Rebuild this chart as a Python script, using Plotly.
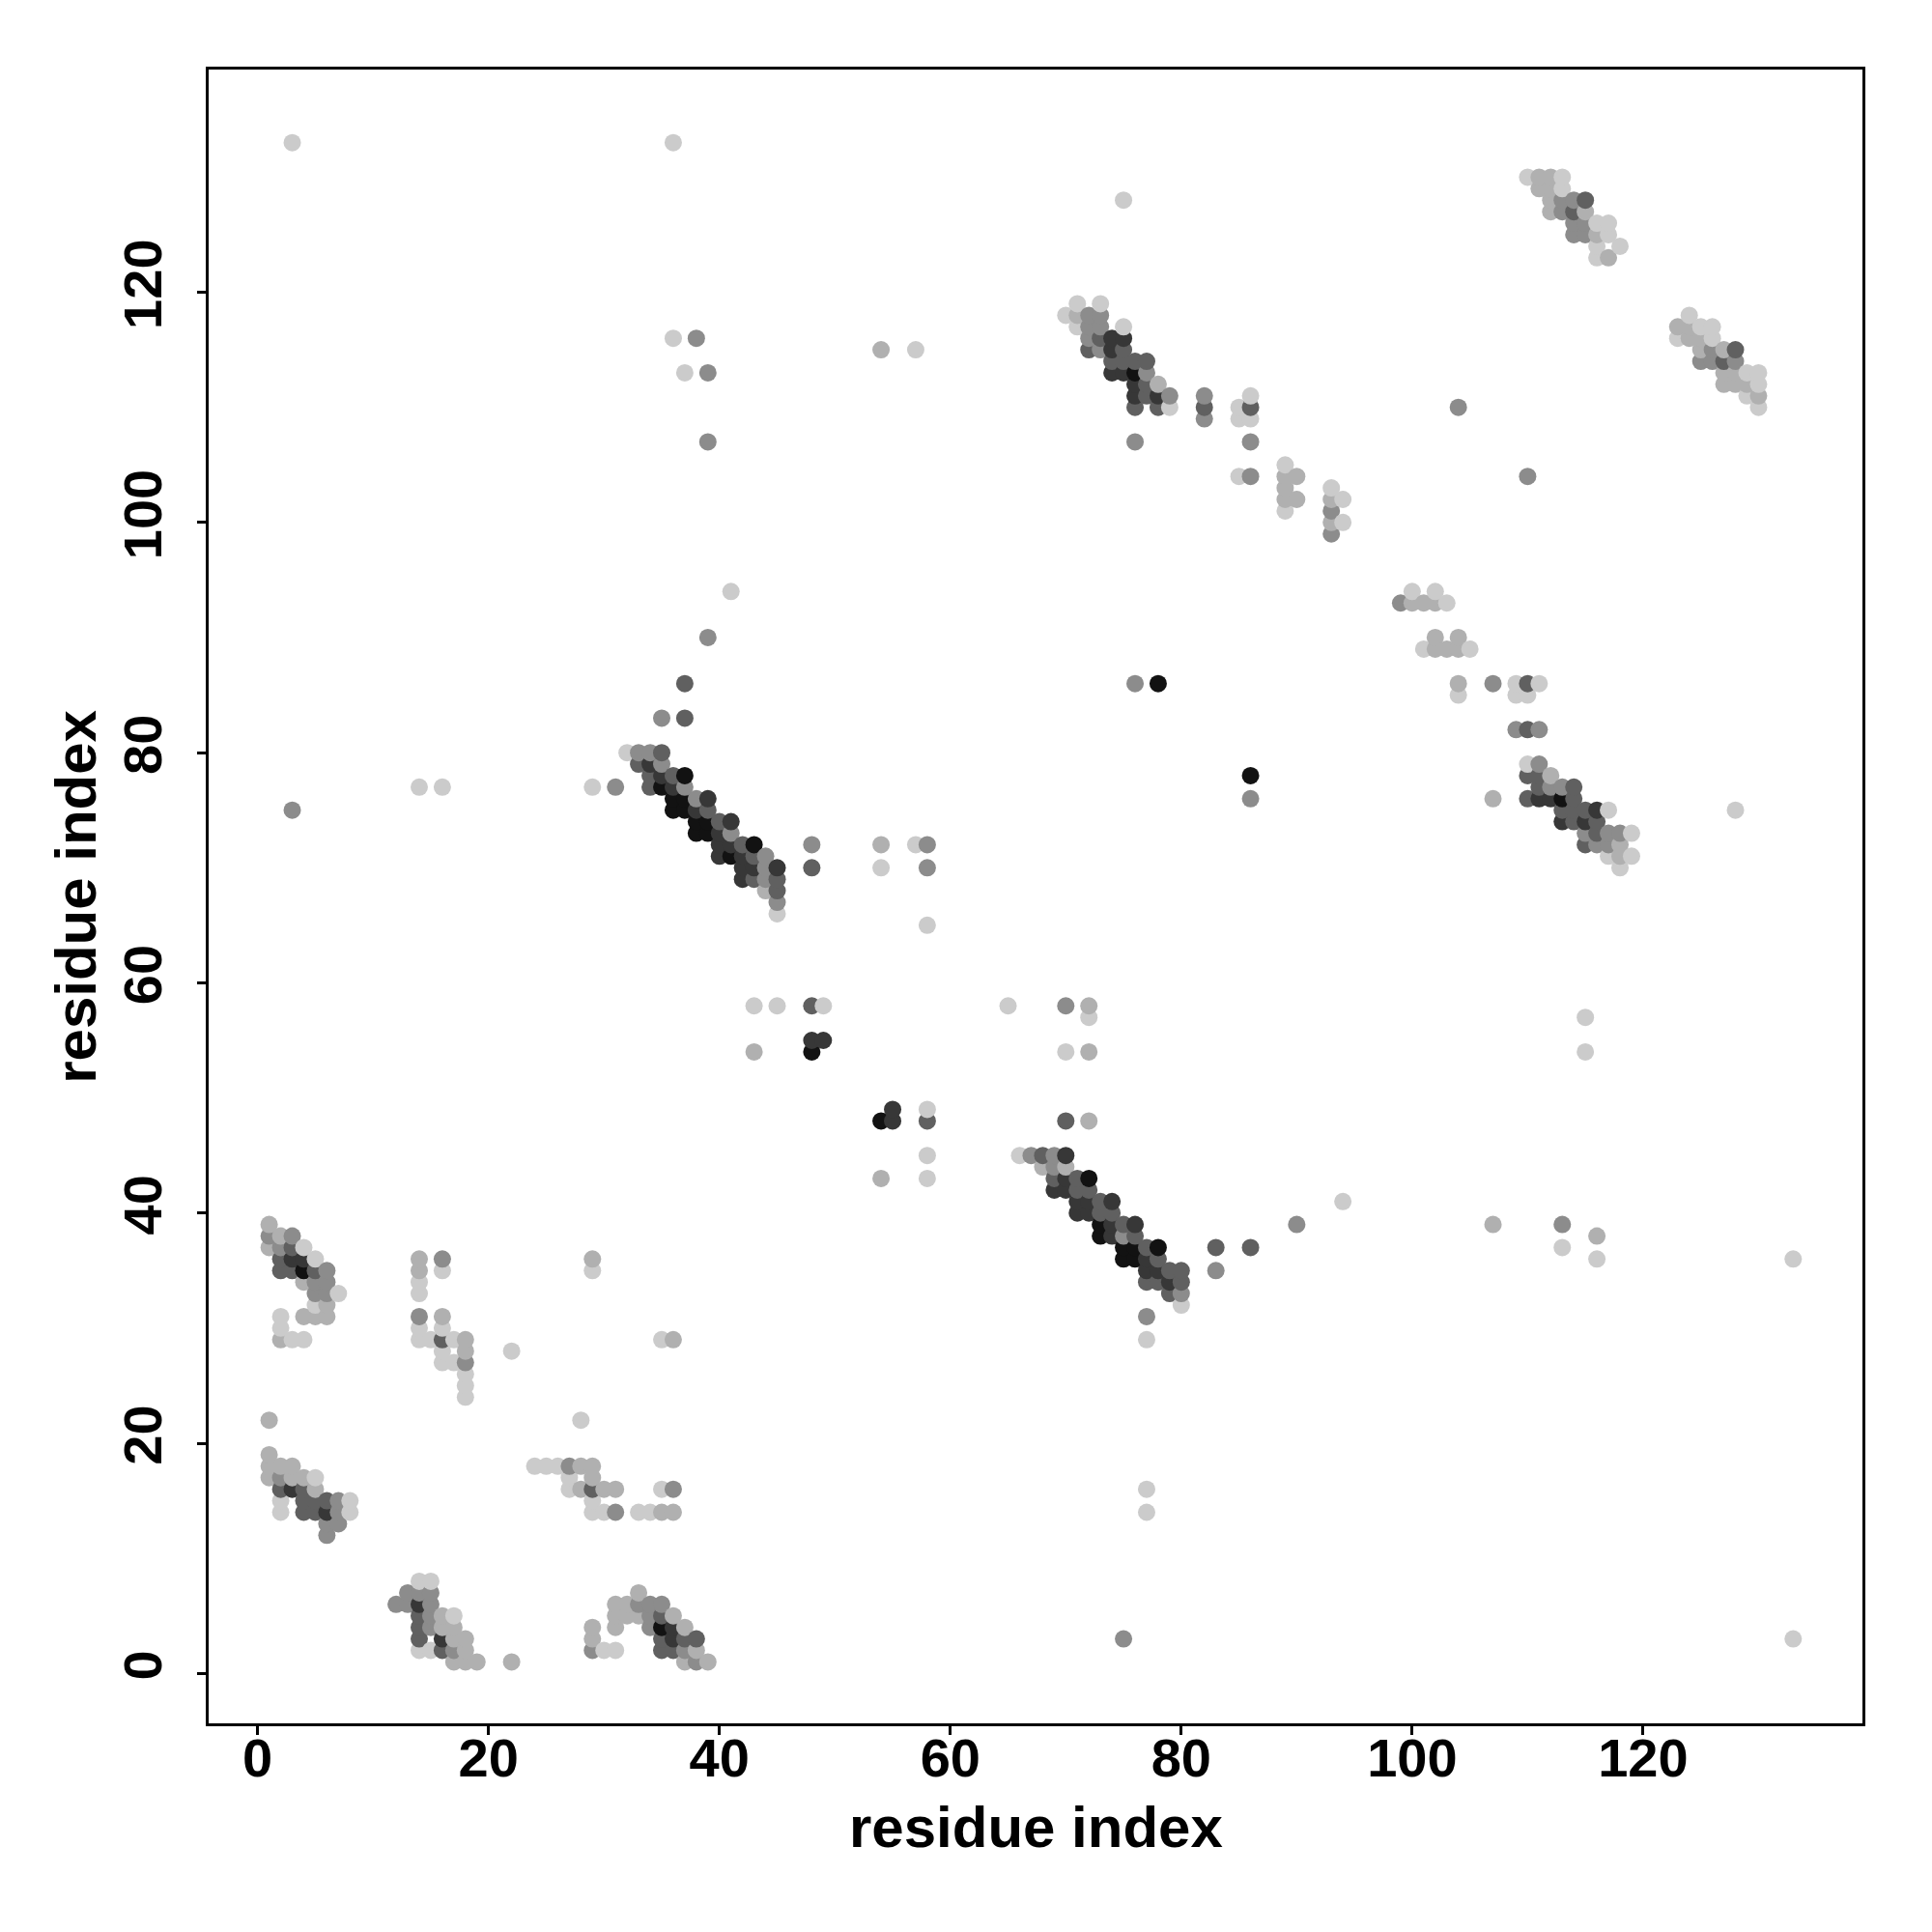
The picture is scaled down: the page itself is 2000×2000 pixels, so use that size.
import plotly.graph_objects as go

# Contact map: residue i (x), residue j (y), contact strength (0..1, darker = stronger)
res_i = [
    # cluster near (1-8, 29-39)
    1, 1, 2, 3, 1, 2, 3, 4, 2, 3, 4, 5, 2, 3, 4, 5, 6, 4, 5, 6, 5, 6, 7, 5, 6, 2, 4, 5, 6, 2, 2, 3, 4,
    # cluster near (14-18, 24-36)
    14, 16, 14, 16, 14, 14, 14, 16, 14, 16, 14, 15, 16, 17, 18, 16, 18, 16, 17, 18, 18, 18, 18, 22,
    # cluster near (1-8, 12-22)
    1, 1, 1, 2, 3, 1, 2, 3, 4, 5, 2, 3, 4, 5, 2, 4, 5, 6, 7, 8, 2, 4, 5, 6, 7, 8, 6, 7, 6,
    # cluster near (12-19, 1-8)
    14, 15, 13, 14, 15, 12, 13, 14, 15, 14, 15, 16, 17, 14, 15, 16, 17, 14, 16, 17, 18,
    14, 15, 16, 17, 18, 17, 18, 19, 22,
    # cluster near (24-36, 14-36)
    24, 25, 26, 27, 28, 29, 27, 29, 27, 28, 29, 30, 31, 29, 29, 30, 31, 33, 34, 35, 36, 35, 36,
    28, 29, 29, 35, 36,
    # cluster near (29-39, 1-7)
    33, 31, 32, 33, 34, 35, 31, 32, 33, 34, 35, 36, 29, 31, 34, 35, 36, 37, 29, 35, 36, 37, 38,
    29, 30, 31, 35, 36, 37, 38, 37, 38, 39,
    # anti-diagonal strand (29-45, 66-94)
    41, 39, 37, 35, 37, 32, 33, 34, 35, 33, 34, 35, 34, 35, 36, 37, 29, 31, 34, 35, 36, 37,
    36, 37, 38, 39, 36, 37, 38, 39, 38, 39, 40, 41, 38, 39, 40, 41, 40, 41, 42, 43,
    40, 41, 42, 43, 44, 42, 43, 44, 45, 42, 43, 44, 45, 44, 45, 45, 45,
    # scattered (43-72, 43-72)
    48, 54, 57, 58, 48, 54, 58, 58, 43, 45, 48, 49, 48, 49, 43, 48,
    55, 58, 54, 55, 58, 58, 54, 58, 65, 70, 72, 72, 70, 72, 70, 72,
    # anti-diagonal strand (66-80, 29-45)
    66, 67, 68, 69, 70, 68, 69, 70, 69, 70, 71, 72, 69, 70, 71, 72, 71, 72, 73, 74,
    71, 72, 73, 74, 73, 74, 75, 76, 73, 74, 75, 76, 75, 76, 77, 78, 75, 76, 77, 78,
    77, 78, 79, 80, 77, 78, 79, 80, 79, 80, 80, 77, 77, 83, 86, 83, 90, 94,
    # cluster near (70-79, 107-119)
    71, 73, 70, 71, 72, 73, 71, 72, 73, 75, 72, 73, 74, 75, 72, 73, 74, 75, 74, 75, 76, 77,
    74, 75, 76, 77, 76, 77, 78, 76, 77, 78, 79, 76, 78, 79, 76,
    82, 82, 82, 86, 86, 86, 85, 85, 86, 85, 86,
    89, 89, 90, 89, 90, 89, 89, 93, 94, 93, 93, 94, 93, 93,
    # cluster near (99-119, 70-94)
    100, 102, 99, 100, 101, 102, 103, 102, 104, 101, 102, 103, 104, 105,
    104, 104, 107, 109, 110, 111, 109, 110, 109, 110, 111, 110, 111, 110, 111, 112,
    111, 112, 113, 114, 107, 110, 111, 112, 113, 114, 113, 114, 115, 116, 117,
    113, 114, 115, 116, 115, 116, 117, 118, 119, 115, 116, 117, 118, 117, 118, 119, 118, 128,
    # cluster near (110-118, 123-130)
    110, 111, 112, 113, 111, 112, 113, 112, 113, 114, 115, 112, 113, 114, 115,
    114, 115, 116, 117, 114, 115, 116, 117, 116, 118, 116, 117,
    # cluster near (123-130, 110-118)
    124, 123, 124, 125, 126, 123, 124, 125, 126, 125, 126, 127, 128, 125, 126, 127, 128,
    127, 128, 129, 130, 127, 128, 129, 130, 129, 130, 130,
    # isolated contacts
    3, 36, 75, 36, 38, 37, 39, 39, 54, 57, 104, 110, 76, 78, 86, 86, 3, 14, 16,
    115, 115, 107, 113, 113, 116, 116, 133, 75, 133, 77, 77,
]

res_j = [
    39, 38, 38, 38, 37, 37, 37, 37, 36, 36, 36, 36, 35, 35, 35, 35, 35, 34, 34, 34, 33, 33, 33, 32, 32, 31, 31, 31, 31, 30, 29, 29, 29,
    36, 36, 35, 35, 34, 33, 31, 31, 30, 30, 29, 29, 29, 29, 29, 28, 28, 27, 27, 27, 26, 25, 24, 28,
    22, 19, 18, 18, 18, 17, 17, 17, 17, 17, 16, 16, 16, 16, 15, 15, 15, 15, 15, 15, 14, 14, 14, 14, 14, 14, 13, 13, 12,
    8, 8, 7, 7, 7, 6, 6, 6, 6, 5, 5, 5, 5, 4, 4, 4, 4, 3, 3, 3, 3,
    2, 2, 2, 2, 2, 1, 1, 1, 1,
    18, 18, 18, 18, 18, 18, 17, 17, 16, 16, 16, 16, 16, 15, 14, 14, 14, 14, 14, 14, 14, 16, 16,
    22, 36, 35, 29, 29,
    7, 6, 6, 6, 6, 6, 5, 5, 5, 5, 5, 5, 4, 4, 4, 4, 4, 4, 3, 3, 3, 3, 3,
    2, 2, 2, 2, 2, 2, 2, 1, 1, 1,
    94, 90, 86, 83, 83, 80, 80, 80, 80, 79, 79, 79, 78, 78, 78, 78, 77, 77, 77, 77, 77, 77,
    76, 76, 76, 76, 75, 75, 75, 75, 74, 74, 74, 74, 73, 73, 73, 73, 72, 72, 72, 72,
    71, 71, 71, 71, 71, 70, 70, 70, 70, 69, 69, 69, 69, 68, 68, 67, 66,
    72, 72, 72, 72, 70, 70, 70, 65, 58, 58, 58, 58, 55, 55, 54, 54,
    49, 49, 48, 48, 48, 45, 43, 43, 58, 58, 58, 57, 54, 54, 48, 48,
    45, 45, 45, 45, 45, 44, 44, 44, 43, 43, 43, 43, 42, 42, 42, 42, 41, 41, 41, 41,
    40, 40, 40, 40, 39, 39, 39, 39, 38, 38, 38, 38, 37, 37, 37, 37, 36, 36, 36, 36,
    35, 35, 35, 35, 34, 34, 34, 34, 33, 33, 32, 31, 29, 37, 37, 35, 39, 41,
    119, 119, 118, 118, 118, 118, 117, 117, 117, 117, 116, 116, 116, 116, 115, 115, 115, 115, 114, 114, 114, 114,
    113, 113, 113, 113, 112, 112, 112, 111, 111, 111, 111, 110, 110, 110, 107,
    111, 110, 109, 111, 110, 109, 110, 109, 107, 104, 104,
    105, 104, 104, 103, 102, 102, 101, 103, 102, 102, 101, 100, 100, 99,
    94, 94, 93, 93, 93, 93, 93, 90, 90, 89, 89, 89, 89, 89,
    86, 85, 86, 86, 86, 86, 85, 85, 82, 82, 82, 79, 79, 78, 78, 78,
    77, 77, 77, 77, 76, 76, 76, 76, 76, 76, 75, 75, 75, 75, 75,
    74, 74, 74, 74, 73, 73, 73, 73, 73, 72, 72, 72, 72, 71, 71, 71, 70, 75,
    130, 130, 130, 130, 129, 129, 129, 128, 128, 128, 128, 127, 127, 127, 127,
    126, 126, 126, 126, 125, 125, 125, 125, 124, 124, 123, 123,
    118, 117, 117, 117, 117, 116, 116, 116, 116, 115, 115, 115, 115, 114, 114, 114, 114,
    113, 113, 113, 113, 112, 112, 112, 112, 111, 111, 110,
    133, 133, 128, 116, 116, 113, 113, 107, 115, 115, 110, 104, 86, 86, 78, 76, 75, 77, 77,
    57, 54, 39, 39, 37, 38, 36, 36, 3, 3, 16, 14,
]

# contact strength read from the grey level of each dot
L, M, G, D, K, B = 0.15, 0.3, 0.45, 0.65, 0.8, 0.95
strength = [
    M, G, M, G, M, G, D, L, D, K, K, L, D, D, B, D, G, M, G, G, G, G, L, L, M, L, M, M, M, L, M, L, L,
    M, G, M, L, L, L, G, M, L, L, L, L, D, L, M, L, M, L, L, G, L, L, L, L,
    M, M, M, M, M, M, G, M, M, L, D, K, D, M, L, D, D, D, G, L, L, D, D, K, G, L, G, G, G,
    L, L, G, G, G, G, G, K, G, D, G, M, L, D, G, M, M, D, K, M, M,
    L, L, D, G, M, M, M, M, M,
    L, L, L, G, M, M, L, M, L, M, D, M, M, L, L, L, G, L, L, M, M, L, G,
    L, M, L, L, M,
    M, M, M, G, G, G, M, M, M, G, D, M, M, M, G, B, K, M, M, D, K, D, D,
    G, L, L, D, D, G, M, M, G, M,
    L, G, D, G, D, L, G, G, D, D, K, G, D, K, D, B, L, G, D, B, K, G,
    B, B, G, K, B, B, K, D, B, B, D, K, B, B, K, G, K, K, D, B,
    K, B, K, D, G, K, K, G, K, K, D, G, D, M, D, G, L,
    G, M, L, G, D, L, G, L, L, L, D, L, K, K, M, B,
    K, L, B, K, D, L, M, L, L, G, M, L, L, M, D, M,
    L, G, D, G, K, M, G, M, D, K, D, B, K, K, D, D, K, K, D, K,
    K, K, D, D, B, K, D, K, B, K, G, D, B, B, D, B, B, B, K, D,
    K, K, D, D, D, D, K, D, D, G, L, G, L, D, D, G, G, L,
    L, L, L, M, G, G, L, G, G, L, G, D, K, K, D, G, K, D, D, D, D, D,
    K, K, B, G, K, D, M, K, D, K, G, D, D, L, G,
    G, D, G, L, D, L, L, L, G, L, G,
    L, M, M, M, M, M, L, L, L, M, G, L, M, G,
    L, L, G, M, M, M, L, M, M, L, M, M, M, L,
    M, L, G, L, D, L, L, L, G, D, G, L, G, D, D, M,
    D, G, G, D, M, D, K, K, B, D, D, D, D, K, L,
    K, D, K, D, G, D, G, G, L, D, G, G, M, L, M, L, L, L,
    L, M, M, L, M, M, L, M, G, G, D, M, G, D, M,
    G, G, L, L, G, G, M, L, L, L, L, M,
    L, M, M, L, L, L, M, M, L, M, G, M, D, G, G, D, G,
    M, M, L, L, M, M, M, L, L, M, L,
    L, L, L, L, G, L, G, G, M, L, G, G, G, B, B, G, G, L, L,
    L, L, M, G, L, M, L, L, G, L, L, L,
]

assert len(res_i) == len(res_j) == len(strength), (len(res_i), len(res_j), len(strength))

# draw in residue order (i, then j), as the original plotting order
order = sorted(range(len(res_i)), key=lambda k: (res_i[k], res_j[k]))
xs = [res_i[k] for k in order]
ys = [res_j[k] for k in order]
cs = [strength[k] for k in order]

x_ticks = [0, 20, 40, 60, 80, 100, 120]
y_ticks = [0, 20, 40, 60, 80, 100, 120]

grey_scale = [
    [0.0, "rgb(225,225,225)"],
    [0.15, "rgb(203,203,203)"],
    [0.3, "rgb(176,176,176)"],
    [0.45, "rgb(140,140,140)"],
    [0.65, "rgb(96,96,96)"],
    [0.8, "rgb(55,55,55)"],
    [1.0, "rgb(5,5,5)"],
]

fig = go.Figure()
fig.add_trace(go.Scatter(
    x=xs, y=ys, mode="markers",
    marker=dict(size=18, color=cs, colorscale=grey_scale, cmin=0, cmax=1,
                line=dict(width=0), opacity=1),
    hoverinfo="x+y", showlegend=False,
))

FONT = "Liberation Sans"
axis_common = dict(
    showgrid=False, zeroline=False, showline=True, linewidth=3.3, linecolor="black",
    mirror=True, ticks="outside", ticklen=9, tickwidth=3, tickcolor="black",
    tickfont=dict(family=FONT, size=56, color="black", weight="bold"),
)

fig.update_layout(
    width=2000, height=2000,
    paper_bgcolor="white", plot_bgcolor="white",
    margin=dict(l=208, r=80, t=64, b=224),
    xaxis=dict(range=[-4.24, 139.0], tickvals=x_ticks, ticktext=[str(v) for v in x_ticks],
               ticklabelstandoff=-24, **axis_common),
    yaxis=dict(range=[-4.34, 139.35], tickvals=y_ticks, ticktext=[str(v) for v in y_ticks],
               tickangle=-90, ticklabelstandoff=14, **axis_common),
    annotations=[
        dict(text="residue index", xref="paper", yref="paper", x=0.5, y=-0.0625,
             xanchor="center", yanchor="middle", showarrow=False,
             font=dict(family=FONT, size=60, color="black", weight="bold")),
        dict(text="residue index", xref="paper", yref="paper", x=-0.0807, y=0.5,
             xanchor="center", yanchor="middle", showarrow=False, textangle=-90,
             font=dict(family=FONT, size=60, color="black", weight="bold")),
    ],
)

fig.write_html("out.html")
